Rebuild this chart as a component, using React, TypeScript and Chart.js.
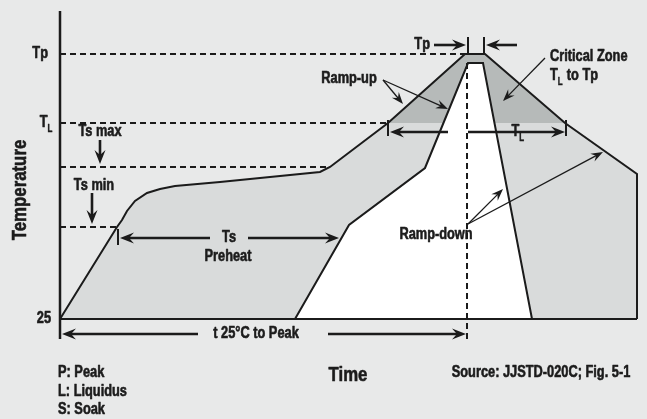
import React, { useEffect, useRef } from "react";
import { Chart, registerables } from "chart.js";

Chart.register(...registerables);

// ---- schematic temperature levels (arbitrary profile units) ----
const T_AMBIENT = 25;
const TS_MIN = 117;
const TS_MAX = 177;
const T_LIQUIDUS = 221;
const T_PEAK = 290;

// ---- outer (full) reflow profile ----
const profileTime = [0, 57, 62, 67, 75, 87, 100, 115, 160, 210, 260, 270, 328, 405, 425, 505, 577, 577];
const profileTemp = [25, 117, 124, 133, 143, 151, 155, 158, 162, 167, 172, 177, 221, 290, 290, 221, 170, 25];

// ---- critical zone (TL to Tp) ----
const criticalTime = [328, 405, 425, 505];
const criticalTemp = [221, 290, 290, 221];

// ---- inner (minimum) profile ----
const innerTime = [235, 289, 365, 408, 423, 472];
const innerTemp = [25, 119, 176, 281, 281, 25];

// ---- reference lines ----
const baselineTime = [0, 577];
const axisTemp = [5, 333];
const peakTime = 407;
const tpLineEnd = 405;
const tlLineEnd = 328;
const tsMaxLineEnd = 270;
const tsMinLineEnd = 57;
const peakDashTemp = [281, 4];

// ---- annotation arrows [t1, T1, t2(tip), T2(tip), heavy] ----
const arrows: [number, number, number, number, boolean][] = [
  [40, 204, 40, 180, true], // Ts max
  [32, 151, 32, 120, true], // Ts min
  [150, 106, 60, 106, true], // preheat left
  [188, 106, 279, 106, true], // preheat right
  [138, 10, 2, 10, true], // t25 left
  [268, 10, 406, 10, true], // t25 right
  [388, 212, 330, 212, true], // TL left
  [408, 212, 505, 212, true], // TL right
  [374, 299, 406, 299, true], // tp in right
  [457, 299, 426, 299, true], // tp in left
  [323, 264, 343, 240, false], // ramp-up 1
  [323, 264, 388, 235, false], // ramp-up 2
  [485, 286, 443, 243, false], // critical zone
  [408, 120, 443, 155, false], // ramp-down 1
  [408, 120, 543, 192, false], // ramp-down 2
];

// ---- dimension bars [t, Tlow, Thigh] ----
const bars: [number, number, number][] = [
  [58, 99, 115],
  [328, 208, 224],
  [506, 208, 224],
  [408, 290, 307],
  [424, 290, 307],
];

// ---- labels [text, t, T, align] ----
const labels: [string, number, number, CanvasTextAlign][] = [
  ["Tp", -12, 290, "right"],
  ["25", -9, 25, "right"],
  ["Ts max", 40, 212, "center"],
  ["Ts min", 34, 158, "center"],
  ["Ts", 169, 106, "center"],
  ["Preheat", 168, 87, "center"],
  ["Ramp-up", 289, 265, "center"],
  ["Tp", 370, 299, "right"],
  ["Critical Zone", 490, 287, "left"],
  ["Ramp-down", 376, 109, "center"],
  ["t 25°C to Peak", 196, 10, "center"],
  ["P: Peak", -2, -29, "left"],
  ["L: Liquidus", -2, -48, "left"],
  ["S: Soak", -2, -66, "left"],
  ["Source: JJSTD-020C; Fig. 5-1", 481, -29, "center"],
];
// subscript labels [main, sub, tail, t, T, align]
const subLabels: [string, string, string, number, number, CanvasTextAlign][] = [
  ["T", "L", "", -7, 221, "right"],
  ["T", "L", "", 458, 212, "center"],
  ["T", "L", " to Tp", 490, 268, "left"],
];
const axisTitleY = { text: "Temperature", t: -40, T: 154 };
const axisTitleX = { text: "Time", t: 288, T: -31 };

const FONT = '"Liberation Sans", Arial, sans-serif';
const SX = 0.8; // horizontal condensing of the bold face
const INK = "#1b1b1b";
const BG = "#e8e9e9";

const pts = (xs: number[], ys: number[]) => xs.map((x, i) => ({ x, y: ys[i] }));

function condensedText(ctx: CanvasRenderingContext2D, text: string, x: number, y: number, align: CanvasTextAlign, size: number) {
  ctx.font = `bold ${size}px ${FONT}`;
  const w = ctx.measureText(text).width * SX;
  let x0 = x;
  if (align === "right") x0 -= w;
  else if (align === "center") x0 -= w / 2;
  ctx.save();
  ctx.translate(x0, y);
  ctx.scale(SX, 1);
  ctx.textAlign = "left";
  ctx.lineWidth = size > 12 ? 0.6 : 0.4;
  ctx.lineJoin = "round";
  ctx.strokeText(text, 0, 0);
  ctx.fillText(text, 0, 0);
  ctx.restore();
  return w;
}
function textWidth(ctx: CanvasRenderingContext2D, text: string, size: number) {
  ctx.font = `bold ${size}px ${FONT}`;
  return ctx.measureText(text).width * SX;
}

export default function App() {
  const ref = useRef<HTMLCanvasElement | null>(null);
  useEffect(() => {
    if (!ref.current) return;
    const dash = [6, 4];
    const lineDs = (data: any[], extra: any = {}) => ({
      data,
      borderColor: INK,
      borderWidth: 2,
      pointRadius: 0,
      fill: false,
      tension: 0,
      clip: false,
      ...extra,
    });

    const annot = {
      id: "annot",
      beforeDraw(chart: any) {
        const { ctx, width, height } = chart;
        ctx.save();
        ctx.fillStyle = BG;
        ctx.fillRect(0, 0, width, height);
        ctx.restore();
      },
      afterDatasetsDraw(chart: any) {
        const { ctx } = chart;
        const X = (v: number) => chart.scales.x.getPixelForValue(v);
        const Y = (v: number) => chart.scales.y.getPixelForValue(v);
        ctx.save();
        ctx.strokeStyle = INK;
        ctx.fillStyle = INK;
        // bars
        ctx.lineWidth = 2;
        for (const [t, a, b] of bars) {
          ctx.beginPath();
          ctx.moveTo(X(t), Y(a));
          ctx.lineTo(X(t), Y(b));
          ctx.stroke();
        }
        // arrows
        for (const [t1, T1, t2, T2, heavy] of arrows) {
          const x1 = X(t1), y1 = Y(T1), x2 = X(t2), y2 = Y(T2);
          const ang = Math.atan2(y2 - y1, x2 - x1);
          const L = heavy ? 14 : 12;
          const W = heavy ? 5.5 : 4.5;
          ctx.lineWidth = heavy ? 2.6 : 1.3;
          ctx.beginPath();
          ctx.moveTo(x1, y1);
          ctx.lineTo(x2 - Math.cos(ang) * L * 0.6, y2 - Math.sin(ang) * L * 0.6);
          ctx.stroke();
          const c = Math.cos(ang), s = Math.sin(ang);
          const bx = x2 - c * L, by = y2 - s * L;
          const nx = x2 - c * L * 0.65, ny = y2 - s * L * 0.65;
          ctx.beginPath();
          ctx.moveTo(x2, y2);
          ctx.lineTo(bx - s * W, by + c * W);
          ctx.lineTo(nx, ny);
          ctx.lineTo(bx + s * W, by - c * W);
          ctx.closePath();
          ctx.fill();
        }
        // labels
        ctx.textBaseline = "middle";
        for (const [text, t, T, align] of labels) {
          condensedText(ctx, text, X(t), Y(T), align, 16);
        }
        for (const [main, sub, tail, t, T, align] of subLabels) {
          const wm = textWidth(ctx, main, 16);
          const wt = tail ? textWidth(ctx, tail, 16) : 0;
          const ws = textWidth(ctx, sub, 10) + 0.5;
          const total = wm + ws + wt;
          let x0 = X(t);
          if (align === "right") x0 -= total;
          else if (align === "center") x0 -= total / 2;
          const y0 = Y(T);
          condensedText(ctx, main, x0, y0, "left", 16);
          if (tail) condensedText(ctx, tail, x0 + wm + ws, y0, "left", 16);
          condensedText(ctx, sub, x0 + wm, y0 + 6, "left", 10);
        }
        // axis titles
        condensedText(ctx, axisTitleX.text, X(axisTitleX.t), Y(axisTitleX.T), "center", 21);
        ctx.save();
        ctx.translate(X(axisTitleY.t), Y(axisTitleY.T));
        ctx.rotate(-Math.PI / 2);
        condensedText(ctx, axisTitleY.text, 0, 0, "center", 21);
        ctx.restore();
        ctx.restore();
      },
    };

    const chart = new Chart(ref.current, {
      type: "line",
      data: {
        datasets: [
          lineDs(pts(profileTime, profileTemp), {
            borderWidth: 0,
            backgroundColor: "#d9dbdb",
            fill: { value: T_AMBIENT },
            order: 10,
          }),
          lineDs(pts(criticalTime, criticalTemp), {
            borderWidth: 0,
            backgroundColor: "#b6bab9",
            fill: { value: T_LIQUIDUS },
            order: 9,
          }),
          lineDs(pts(innerTime, innerTemp), {
            backgroundColor: "#ffffff",
            fill: { value: T_AMBIENT },
            order: 8,
          }),
          lineDs(pts(profileTime, profileTemp), { order: 7 }),
          lineDs(pts(baselineTime, [T_AMBIENT, T_AMBIENT]), { order: 7 }),
          lineDs(pts([0, tpLineEnd], [T_PEAK, T_PEAK]), { borderDash: dash, order: 6 }),
          lineDs(pts([0, tlLineEnd], [T_LIQUIDUS, T_LIQUIDUS]), { borderDash: dash, order: 6 }),
          lineDs(pts([0, tsMaxLineEnd], [TS_MAX, TS_MAX]), { borderDash: dash, order: 6 }),
          lineDs(pts([0, tsMinLineEnd], [TS_MIN, TS_MIN]), { borderDash: dash, order: 6 }),
          lineDs(pts([peakTime, peakTime], peakDashTemp), { borderDash: dash, order: 6 }),
          lineDs(pts([0, 0], axisTemp), { borderWidth: 2.5, order: 5 }),
        ],
      },
      options: {
        animation: false,
        responsive: false,
        devicePixelRatio: 1,
        layout: { padding: 0 },
        events: [],
        plugins: { legend: { display: false }, tooltip: { enabled: false } },
        scales: {
          x: { type: "linear", min: -60, max: 587, display: false },
          y: { type: "linear", min: -75, max: 344, display: false },
        },
      } as any,
      plugins: [annot],
    });
    return () => chart.destroy();
  }, []);

  return (
    <div style={{ position: "absolute", left: 0, top: 0, width: 647, height: 419, background: BG }}>
      <canvas ref={ref} width={647} height={419} style={{ display: "block" }} />
    </div>
  );
}
